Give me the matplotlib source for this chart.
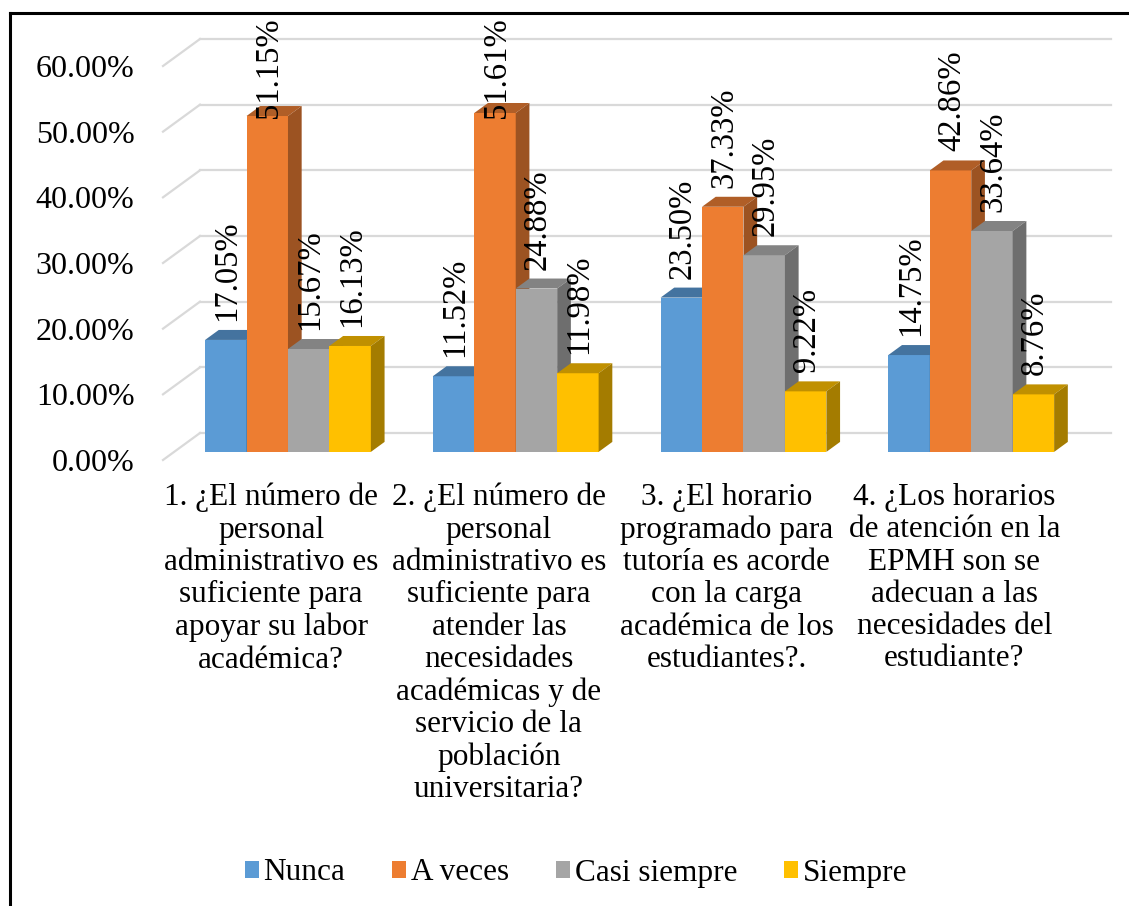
import numpy as np
import matplotlib.pyplot as plt
from matplotlib.patches import Polygon, Patch, Rectangle
from matplotlib.ticker import FuncFormatter

plt.rcParams['font.family'] = ['Liberation Serif', 'DejaVu Serif']

categories = [
    "1. ¿El número de\npersonal\nadministrativo es\nsuficiente para\napoyar su labor\nacadémica?",
    "2. ¿El número de\npersonal\nadministrativo es\nsuficiente para\natender las\nnecesidades\nacadémicas y de\nservicio de la\npoblación\nuniversitaria?",
    "3. ¿El horario\nprogramado para\ntutoría es acorde\ncon la carga\nacadémica de los\nestudiantes?.",
    "4. ¿Los horarios\nde atención en la\nEPMH son se\nadecuan a las\nnecesidades del\nestudiante?",
]
series = ["Nunca", "A veces", "Casi siempre", "Siempre"]
nunca = [17.05, 11.52, 23.50, 14.75]
a_veces = [51.15, 51.61, 37.33, 42.86]
casi_siempre = [15.67, 24.88, 29.95, 33.64]
siempre = [16.13, 11.98, 9.22, 8.76]
values = [nunca, a_veces, casi_siempre, siempre]

# front, top, side shades for each series
front_col = ['#5B9BD5', '#ED7D31', '#A5A5A5', '#FFC000']
top_col = ['#44739F', '#B05E27', '#838383', '#C09000']
side_col = ['#3F6B94', '#9C5322', '#6E6E6E', '#A47C00']

W, H = 1129, 906
fig = plt.figure(figsize=(W / 100, H / 100), dpi=100)

# plot box (front floor edge) in pixels
x0, x1 = 163, 1074
y0, y1 = 460, 66
ax = fig.add_axes([x0 / W, 1 - y0 / H, (x1 - x0) / W, (y0 - y1) / H])
ax.set_xlim(0, 4)
ax.set_ylim(0, 60)
for s in ax.spines.values():
    s.set_visible(False)
ax.set_xticks([])
ax.set_yticks(np.arange(0, 61, 10))
ax.yaxis.set_major_formatter(FuncFormatter(lambda v, p: f"{v:.2f}%"))
ax.tick_params(axis='y', length=0, pad=20.5, labelsize=23)

px_x = (x1 - x0) / 4.0
px_y = (y0 - y1) / 60.0
# depth of the box (to the back wall) in data units
DX = 37 / px_x
DY = 27 / px_y
# bars sit between these depth fractions
f_front, f_back = 0.30, 0.67

grid_c = '#D9D9D9'
for g in np.arange(0, 61, 10):
    ax.plot([DX, 4 + DX], [g + DY, g + DY], color=grid_c, lw=1.6, clip_on=False, zorder=1)
    ax.plot([0, DX], [g, g + DY], color=grid_c, lw=1.6, clip_on=False, zorder=1)

bw = 0.182
bx, by = f_front * DX, f_front * DY
dx, dy = (f_back - f_front) * DX, (f_back - f_front) * DY

labels = []
for i in range(4):
    for j in range(4):
        v = values[j][i]
        left = i + 0.5 - 2 * bw + j * bw + bx
        right = left + bw
        ax.add_patch(Rectangle((left, by), bw, v, facecolor=front_col[j], lw=0,
                               clip_on=False, zorder=3))
        ax.add_patch(Polygon([(left, v + by), (right, v + by), (right + dx, v + by + dy),
                              (left + dx, v + by + dy)], closed=True,
                             facecolor=top_col[j], lw=0, clip_on=False, zorder=3))
        ax.add_patch(Polygon([(right, by), (right, v + by), (right + dx, v + by + dy),
                              (right + dx, by + dy)], closed=True,
                             facecolor=side_col[j], lw=0, clip_on=False, zorder=3))
        t = ax.text(left + bw / 2 + 0.006, v + by + 19 / px_y, f"{v:.2f}%",
                    rotation=90, ha='center', va='bottom', fontsize=23.5,
                    zorder=5, clip_on=False)
        labels.append(t)

for i, c in enumerate(categories):
    ax.text(i + 0.5 - 0.025, -23 / px_y, c, ha='center', va='top', fontsize=22.5,
            linespacing=1.15, multialignment='center')

handles = [Patch(facecolor=front_col[k], label=series[k]) for k in range(4)]
fig.legend(handles=handles, loc='center', bbox_to_anchor=(576 / W, 1 - 873 / H),
           ncol=4, frameon=False, fontsize=22.5, handlelength=0.45, handleheight=0.45,
           handletextpad=0.15, columnspacing=1.5)

# keep value labels inside the chart area
fig.canvas.draw()
r = fig.canvas.get_renderer()
top_px = H - 17
inv = ax.transData.inverted()
for t in labels:
    bb = t.get_window_extent(r)
    if bb.y1 > top_px:
        shift = bb.y1 - top_px
        xd, yd = t.get_position()
        _, yb = inv.transform(ax.transData.transform((xd, yd)) - np.array([0, shift]))
        t.set_position((xd, yb))

# outer frame
fig.add_artist(plt.Line2D([9.5 / W, 9.5 / W], [0, 1 - 13 / H], color='black', lw=2.2))
fig.add_artist(plt.Line2D([9.5 / W, 1], [1 - 13 / H, 1 - 13 / H], color='black', lw=2.2))

fig.savefig('out.png', dpi=100)
